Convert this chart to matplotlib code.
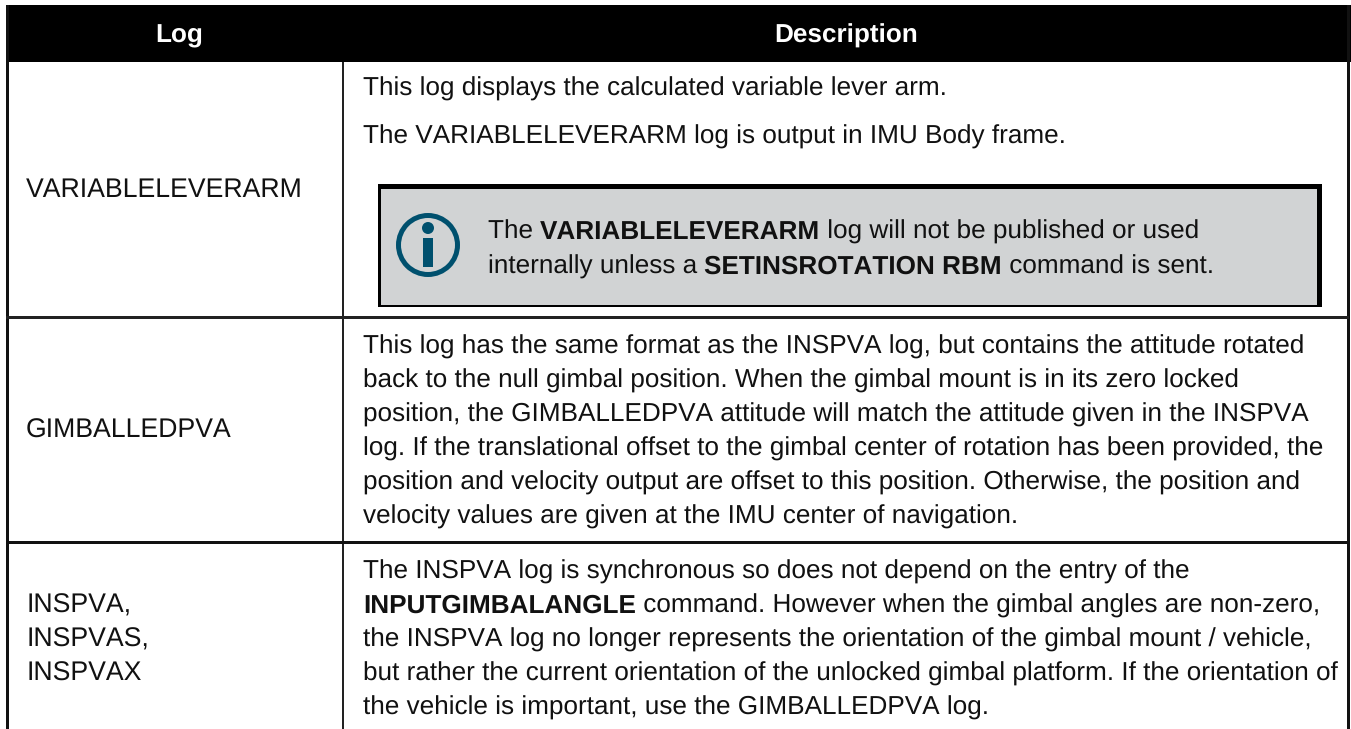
#!/usr/bin/env python3
import matplotlib
matplotlib.use('Agg')
import matplotlib.pyplot as plt
from matplotlib.patches import Rectangle, Circle

plt.rcParams['font.family'] = ['Liberation Sans', 'DejaVu Sans']
plt.rcParams['text.hinting'] = 'no_hinting'
plt.rcParams['text.kerning_factor'] = 10  # reference has no pair kerning

W, H = 1351, 729
FS = 18.82
FS_LEFT = 19.2
INK = '#111111'
GREY = '#d1d3d4'
TEAL = '#00506e'

headers = ['Log', 'Description']
log_names = ['VARIABLELEVERARM', 'GIMBALLEDPVA']
inspva_names = ['INSPVA,', 'INSPVAS,', 'INSPVAX']

row1_lines = ['This log displays the calculated variable lever arm.',
              'The VARIABLELEVERARM log is output in IMU Body frame.']
# (text, bold) runs
note_lines = [[('The ', False), ('VARIABLELEVERARM', True), (' log will not be published or used', False)],
              [('internally unless a ', False), ('SETINSROTATION RBM', True), (' command is sent.', False)]]
row2_lines = ['This log has the same format as the INSPVA log, but contains the attitude rotated',
              'back to the null gimbal position. When the gimbal mount is in its zero locked',
              'position, the GIMBALLEDPVA attitude will match the attitude given in the INSPVA',
              'log. If the translational offset to the gimbal center of rotation has been provided, the',
              'position and velocity output are offset to this position. Otherwise, the position and',
              'velocity values are given at the IMU center of navigation.']
row3_lines = [[('The INSPVA log is synchronous so does not depend on the entry of the', False)],
              [('INPUTGIMBALANGLE', True), (' command. However when the gimbal angles are non-zero,', False)],
              [('the INSPVA log no longer represents the orientation of the gimbal mount / vehicle,', False)],
              [('but rather the current orientation of the unlocked gimbal platform. If the orientation of', False)],
              [('the vehicle is important, use the GIMBALLEDPVA log.', False)]]

fig = plt.figure(figsize=(W / 100, H / 100), dpi=100)
ax = fig.add_axes([0, 0, 1, 1])
ax.set_xlim(0, W)
ax.set_ylim(H, 0)
ax.axis('off')


def box(x0, y0, x1, y1, color):
    ax.add_patch(Rectangle((x0, y0), x1 - x0, y1 - y0, facecolor=color, edgecolor='none'))


def runs(x, y, parts):
    r = fig.canvas.get_renderer()
    for s, bold in parts:
        w = 'bold' if bold else 'normal'
        ax.text(x, y, s, fontsize=FS, color=INK, weight=w, va='baseline', ha='left')
        # bar trick so that the spaces at the ends get counted
        t = ax.text(0, 0, '|' + s + '|', fontsize=FS, weight=w)
        t2 = ax.text(0, 0, '||', fontsize=FS, weight=w)
        x += t.get_window_extent(r).width - t2.get_window_extent(r).width
        t.remove()
        t2.remove()


# table frame
box(6, 5, 1351, 62, 'black')
box(6, 5, 8.6, H, '#111111')
box(1347, 5, 1349.5, H, '#111111')
box(342, 62, 344, H, '#222222')
box(6, 316, 1349, 318.5, '#222222')
box(6, 541, 1349, 543.5, '#111111')

ax.text(179, 42.5, headers[0], fontsize=FS, color='white', weight='bold', ha='center', va='baseline')
ax.text(846, 42.5, headers[1], fontsize=FS, color='white', weight='bold', ha='center', va='baseline')

# left column
ax.text(26, 197, log_names[0], fontsize=FS_LEFT, color=INK, va='baseline')
ax.text(26, 438, log_names[1], fontsize=FS_LEFT, color=INK, va='baseline')
for i, s in enumerate(inspva_names):
    ax.text(27, 612.5 + i * 34, s, fontsize=FS_LEFT, color=INK, va='baseline')

# right column
ax.text(363, 96, row1_lines[0], fontsize=FS, color=INK, va='baseline')
ax.text(363, 144, row1_lines[1], fontsize=FS, color=INK, va='baseline')
for i, s in enumerate(row2_lines):
    ax.text(363, 354 + i * 34, s, fontsize=FS, color=INK, va='baseline')
for i, parts in enumerate(row3_lines):
    runs(363, 579 + i * 34, parts)

# note box
box(378, 184, 1322, 307, 'black')
box(380.5, 189, 1317, 304.5, GREY)
ax.add_patch(Circle((428, 245), 29.5, facecolor='none', edgecolor=TEAL, linewidth=3.6))
ax.add_patch(Circle((428, 228), 6, facecolor=TEAL, edgecolor='none'))
box(423, 238, 433, 267, TEAL)
runs(488, 238.5, note_lines[0])
runs(488, 273.5, note_lines[1])

fig.savefig('out.png', dpi=100)
